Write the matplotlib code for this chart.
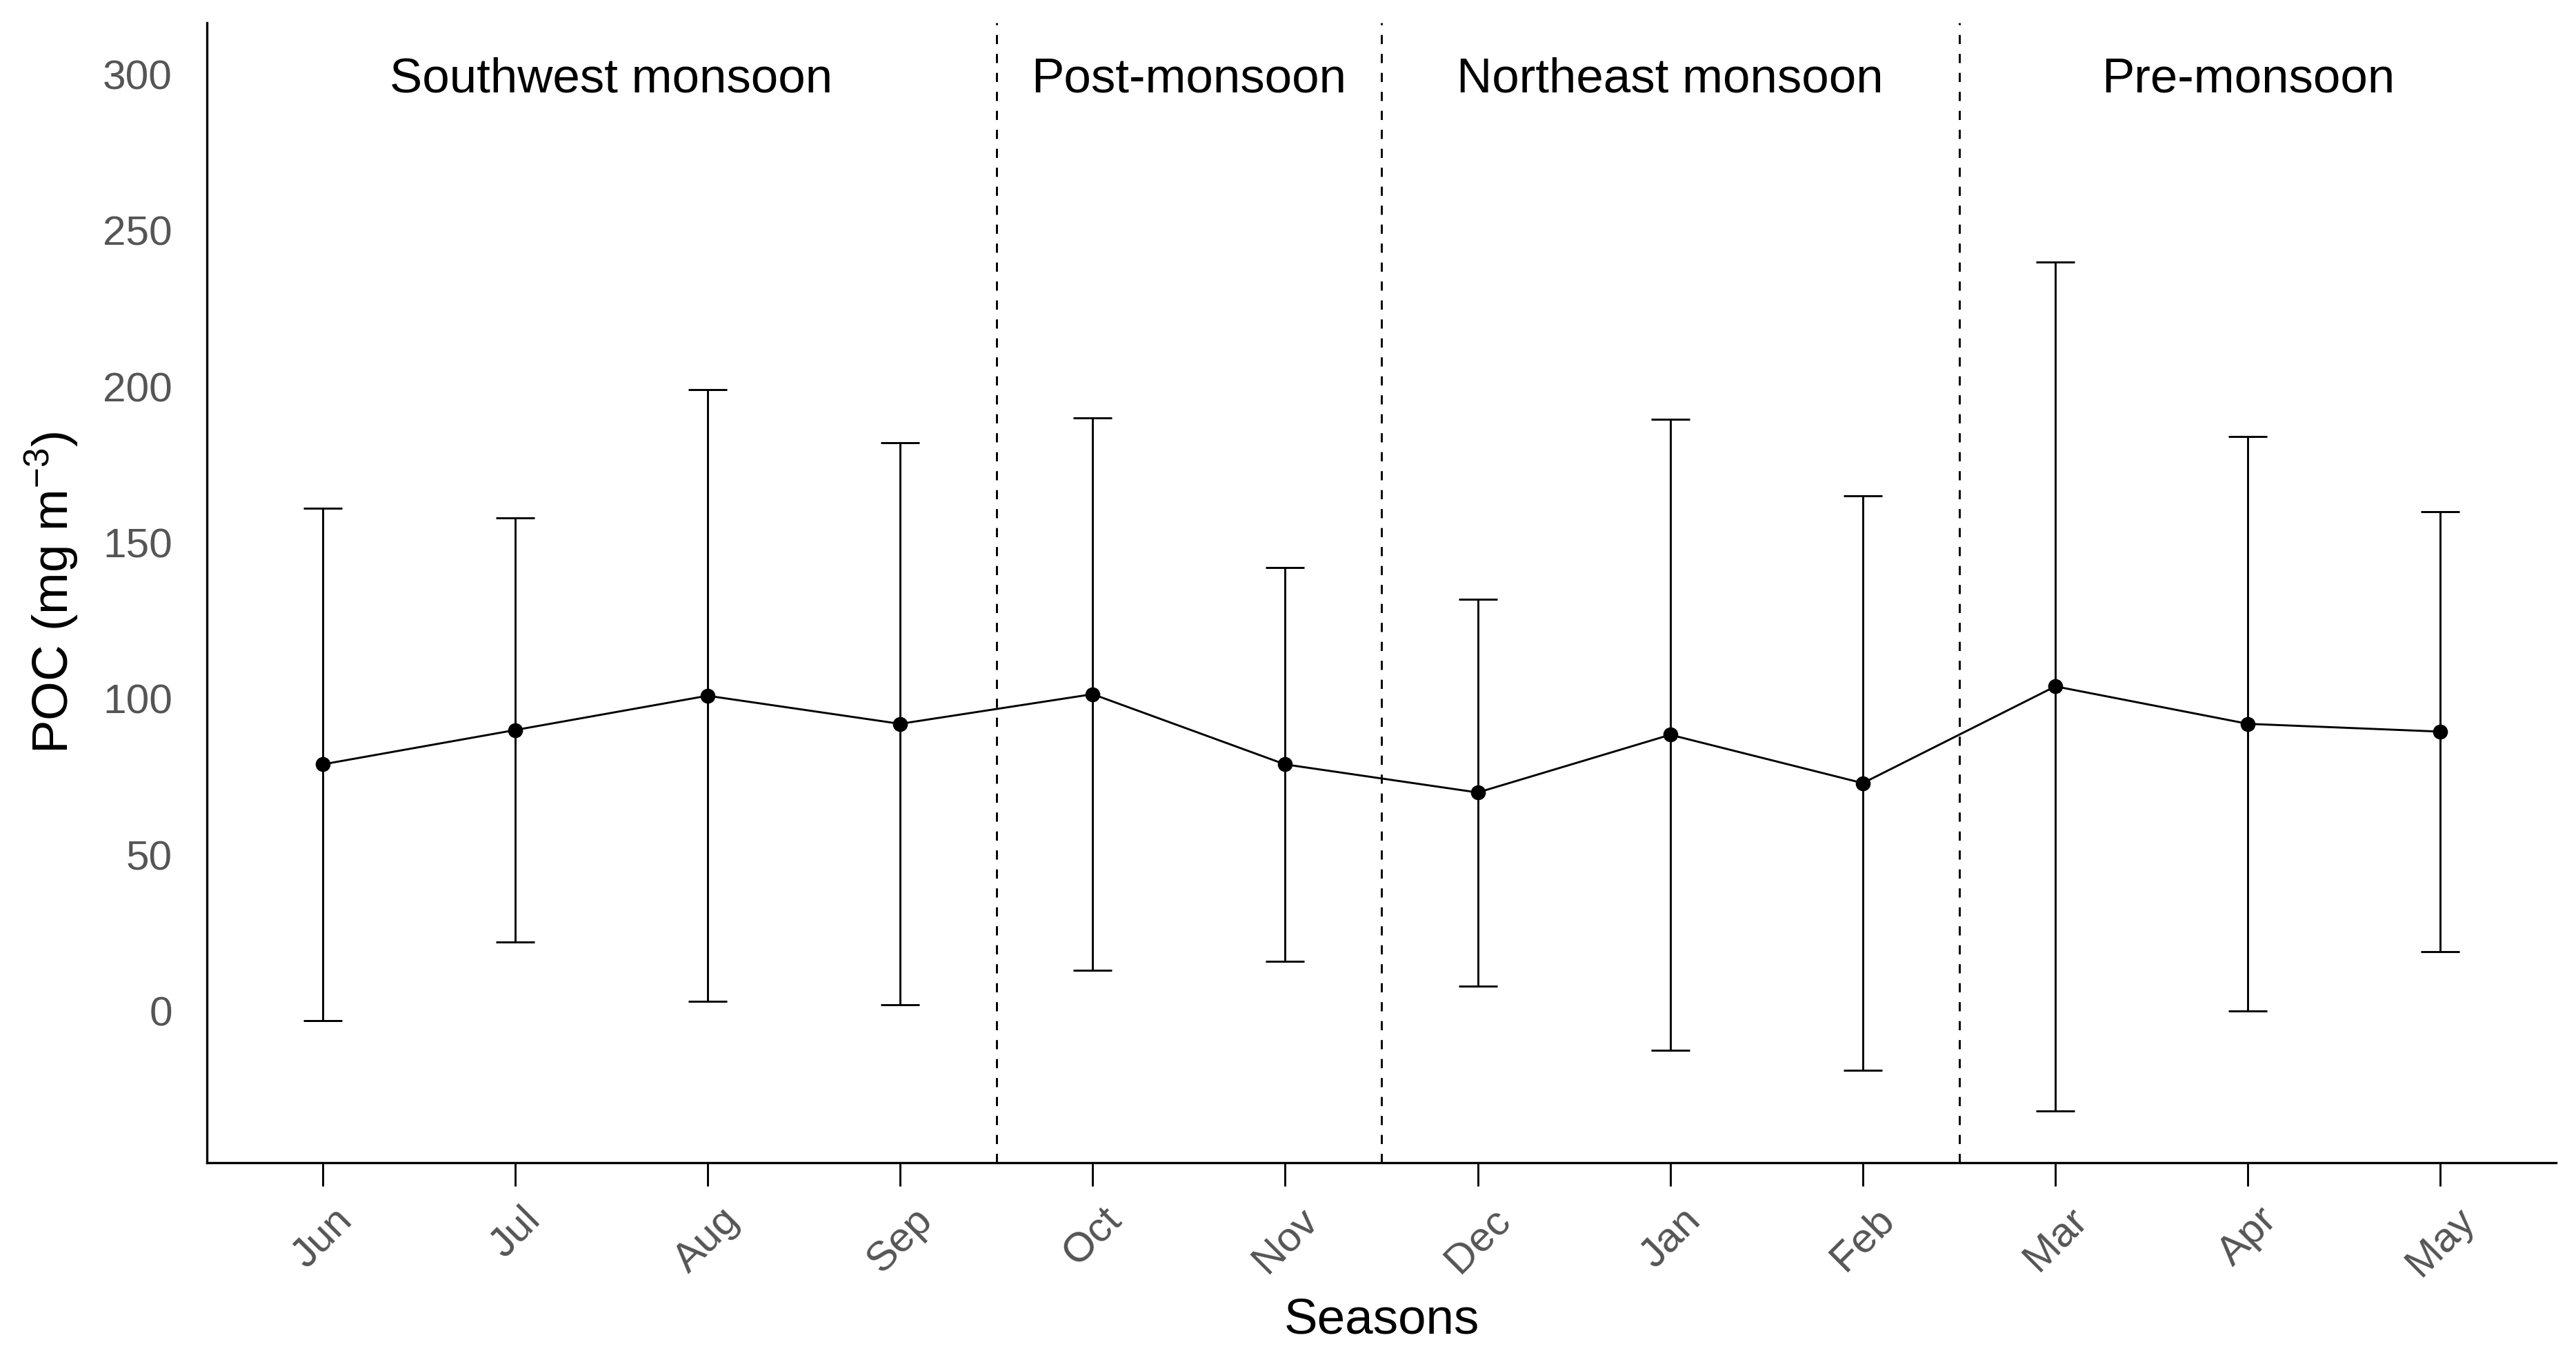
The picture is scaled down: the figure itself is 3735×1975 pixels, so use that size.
import matplotlib
matplotlib.use("Agg")
import matplotlib.pyplot as plt
import numpy as np

months = ["Jun", "Jul", "Aug", "Sep", "Oct", "Nov", "Dec", "Jan", "Feb", "Mar", "Apr", "May"]
poc_mean = [79, 90, 101, 92, 101.5, 79, 70, 88.5, 73, 104, 92, 89.5]
poc_sd = [82, 68, 98, 90, 88.5, 63, 62, 101, 92, 136, 92, 70.5]

season_names = ["Southwest monsoon", "Post-monsoon", "Northeast monsoon", "Pre-monsoon"]
season_label_x = [2.5, 5.5, 8, 11]
season_label_y = 300
season_breaks = [4.5, 6.5, 9.5]
y_ticks = [0, 50, 100, 150, 200, 250, 300]

plt.rcParams['font.family'] = ['Liberation Sans', 'DejaVu Sans']
plt.rcParams['mathtext.default'] = 'regular'
plt.rcParams['lines.scale_dashes'] = False

fig = plt.figure(figsize=(3735 / 300, 1975 / 300), dpi=300)
ax = fig.add_axes([300 / 3735, 1 - 1686 / 1975, (3706 - 300) / 3735, (1686 - 33) / 1975])

x = np.arange(1, len(months) + 1)
lw = 0.7

ax.errorbar(x, poc_mean, yerr=poc_sd, fmt='none', ecolor='black',
            elinewidth=lw, capsize=6.7, capthick=lw, zorder=3)
ax.plot(x, poc_mean, color='black', lw=lw, marker='o', ms=4.2, zorder=4)

for b in season_breaks:
    ax.axvline(b, color='black', lw=lw, linestyle=(0, (3.2, 3.4)), zorder=2)

for name, sx in zip(season_names, season_label_x):
    ax.text(sx, season_label_y, name, ha='center', va='center_baseline',
            fontsize=17, color='black')

# ggplot-like expansion
lo = min(np.array(poc_mean) - np.array(poc_sd))
hi = season_label_y
rng = hi - lo
ax.set_ylim(lo - 0.05 * rng, hi + 0.05 * rng)
ax.set_xlim(0.4, len(months) + 0.6)

ax.set_xticks(x)
ax.set_xticklabels(months, rotation=45)
ax.set_yticks(y_ticks)
ax.set_yticklabels([str(v) for v in y_ticks])

ax.tick_params(axis='x', length=8.2, width=lw, color='black', pad=5,
               labelsize=14.5, labelcolor='#555555')
ax.tick_params(axis='y', length=0, pad=12, labelsize=14.5, labelcolor='#555555')

for s in ['top', 'right']:
    ax.spines[s].set_visible(False)
for s in ['left', 'bottom']:
    ax.spines[s].set_linewidth(0.8)
    ax.spines[s].set_color('black')

ax.set_xlabel("Seasons", fontsize=17.5, labelpad=5)
ax.set_ylabel("POC (mg m$^{-3}$)", fontsize=17.5)
ax.yaxis.set_label_coords(-0.054, 0.5)

fig.savefig("out.png", dpi=300, facecolor='white')
